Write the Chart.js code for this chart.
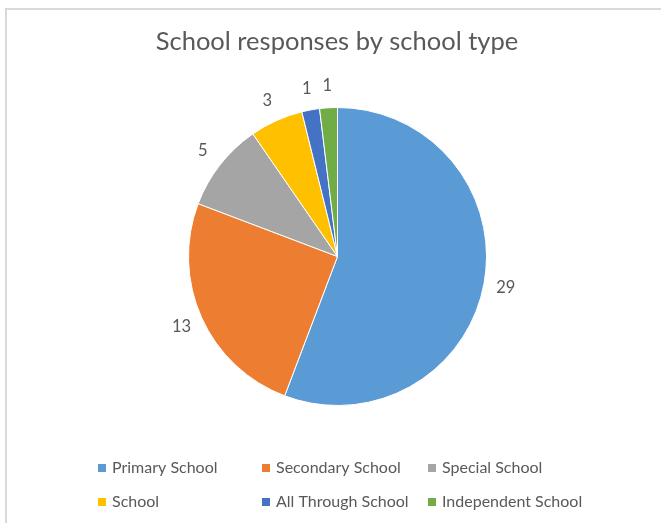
<!DOCTYPE html>
<html lang="en">
<head>
    <meta charset="UTF-8">
    <title>School responses by school type</title>
    <script src="https://cdn.jsdelivr.net/npm/chart.js"></script>
    <style>
        body {
            margin: 0;
            background: #fff;
            overflow: hidden;
        }

        /* light frame of the chart box, cut off at right and bottom */
        #frame {
            position: absolute;
            left: 5px;
            top: 8px;
            width: 720px;
            height: 600px;
            border: 2px solid #d9d9d9;
        }

        #chart {
            position: absolute;
            left: 0;
            top: 0;
        }
    </style>
</head>
<body>
    <div id="frame"></div>
    <canvas id="chart" width="661" height="523"></canvas>

    <script>
        const chartTitle = "School responses by school type";
        const schoolTypes = ["Primary School", "Secondary School", "Special School", "School", "All Through School", "Independent School"];
        const responses = [29, 13, 5, 3, 1, 1];
        const sliceColors = ["#5B9BD5", "#ED7D31", "#A5A5A5", "#FFC000", "#4472C4", "#70AD47"];

        const textColor = "#595959";
        const fontFamily = "Lato, 'Open Sans', sans-serif";

        // value labels just outside each slice, plus the title
        const outsideLabels = {
            id: "outsideLabels",
            afterDatasetsDraw(chart) {
                const ctx = chart.ctx;
                const meta = chart.getDatasetMeta(0);
                ctx.save();
                ctx.fillStyle = textColor;
                ctx.font = "16.5px " + fontFamily;
                ctx.textAlign = "center";
                ctx.textBaseline = "middle";
                meta.data.forEach((arc, i) => {
                    const p = arc.getProps(["x", "y", "startAngle", "endAngle", "outerRadius"], true);
                    const mid = (p.startAngle + p.endAngle) / 2;
                    const r = p.outerRadius + 22;
                    ctx.fillText(chart.data.datasets[0].data[i], p.x + Math.cos(mid) * r, p.y + Math.sin(mid) * r);
                });

                ctx.font = "25.5px " + fontFamily;
                ctx.fillText(chartTitle, 337, 42);
                ctx.restore();
            }
        };

        // legend laid out as a 3 column grid like the original
        const gridLegend = {
            id: "gridLegend",
            afterDraw(chart) {
                const ctx = chart.ctx;
                const colX = [98, 262, 428];
                const rowY = [468, 502];
                ctx.save();
                ctx.font = "16px " + fontFamily;
                ctx.textBaseline = "middle";
                ctx.textAlign = "left";
                chart.data.labels.forEach((label, i) => {
                    const x = colX[i % 3];
                    const y = rowY[Math.floor(i / 3)];
                    ctx.fillStyle = chart.data.datasets[0].backgroundColor[i];
                    ctx.fillRect(x, y - 4, 8, 8);
                    ctx.fillStyle = textColor;
                    ctx.fillText(label, x + 14, y);
                });
                ctx.restore();
            }
        };

        new Chart(document.getElementById("chart"), {
            type: "pie",
            data: {
                labels: schoolTypes,
                datasets: [{
                    data: responses,
                    backgroundColor: sliceColors,
                    borderColor: "#ffffff",
                    borderWidth: 1
                }]
            },
            options: {
                responsive: false,
                animation: false,
                layout: {
                    padding: { left: 188, right: 174, top: 107, bottom: 117 }
                },
                plugins: {
                    legend: { display: false },
                    title: { display: false },
                    tooltip: { enabled: false }
                }
            },
            plugins: [outsideLabels, gridLegend]
        });
    </script>
</body>
</html>
